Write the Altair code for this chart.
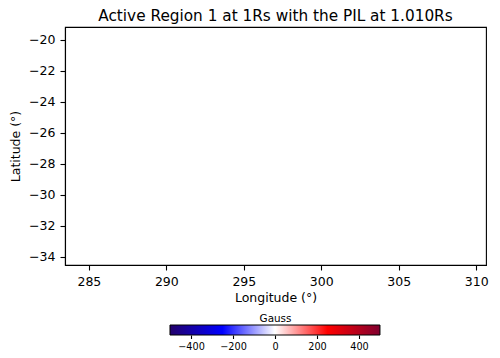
import altair as alt
import pandas as pd

title_text = "Active Region 1 at 1Rs with the PIL at 1.010Rs"
lon_domain = [283.46, 310.63]
lat_domain = [-34.52, -19.18]
lon_ticks = [285, 290, 295, 300, 305, 310]
lat_ticks = [-34, -32, -30, -28, -26, -24, -22, -20]
cbar_range = [-500, 500]
cbar_ticks = [-400, -200, 0, 200, 400]
cbar_axis_domain = [-1000, 1005]
cmap_offsets = [0, 0.25, 0.5, 0.75, 1]
cmap_colors = ["#22006a", "#0000ff", "#ffffff", "#ff0000", "#80002f"]

FONT = "DejaVu Sans"

empty = pd.DataFrame({"lon": pd.Series([], dtype=float), "lat": pd.Series([], dtype=float)})

main = (
    alt.Chart(empty)
    .mark_point()
    .encode(
        x=alt.X(
            "lon:Q",
            scale=alt.Scale(domain=lon_domain, nice=False, zero=False),
            axis=alt.Axis(values=lon_ticks, title="Longitude (°)", labelPadding=5, titlePadding=4),
        ),
        y=alt.Y(
            "lat:Q",
            scale=alt.Scale(domain=lat_domain, nice=False, zero=False),
            axis=alt.Axis(values=lat_ticks, title="Latitude (°)", labelPadding=5, titlePadding=6.5),
        ),
    )
    .properties(
        width=421,
        height=238,
        title=alt.TitleParams(title_text, fontSize=15.3, fontWeight="normal", anchor="middle", offset=2.5, font=FONT, color="black"),
        view=alt.ViewBackground(stroke="black", strokeWidth=1.1),
    )
)

cbar_df = pd.DataFrame({"lo": [cbar_range[0]], "hi": [cbar_range[1]]})

grad = alt.LinearGradient(
    gradient="linear",
    stops=[alt.GradientStop(offset=o, color=c) for o, c in zip(cmap_offsets, cmap_colors)],
    x1=0, x2=1, y1=0, y2=0,
)

cbar = (
    alt.Chart(cbar_df)
    .mark_rect(color=grad, stroke="black", strokeWidth=1)
    .encode(
        x=alt.X(
            "lo:Q",
            scale=alt.Scale(domain=cbar_axis_domain, nice=False, zero=False),
            axis=alt.Axis(values=cbar_ticks, domain=False, grid=False, title=None, tickSize=3.5,
                          labelFontSize=9.7, labelPadding=3, format="d"),
        ),
        x2="hi:Q",
    )
    .properties(
        width=421,
        height=10,
        title=alt.TitleParams("Gauss", fontSize=10.4, fontWeight="normal", anchor="middle", offset=0, font=FONT, color="black"),
        view=alt.ViewBackground(strokeOpacity=0),
    )
)

chart = (
    alt.vconcat(main, cbar, spacing=60, bounds="flush")
    .properties(padding=0, background="white")
    .configure_axis(
        grid=False,
        domainColor="black",
        domainWidth=1.1,
        tickColor="black",
        tickWidth=1.1,
        tickSize=5,
        labelFont=FONT,
        labelFontSize=12.5,
        labelColor="black",
        titleFont=FONT,
        titleFontSize=12.5,
        titleFontWeight="normal",
        titleColor="black",
    )
    .configure_view(stroke="transparent")
)

chart.save("out.html", embed_options={"renderer": "svg", "actions": False})
